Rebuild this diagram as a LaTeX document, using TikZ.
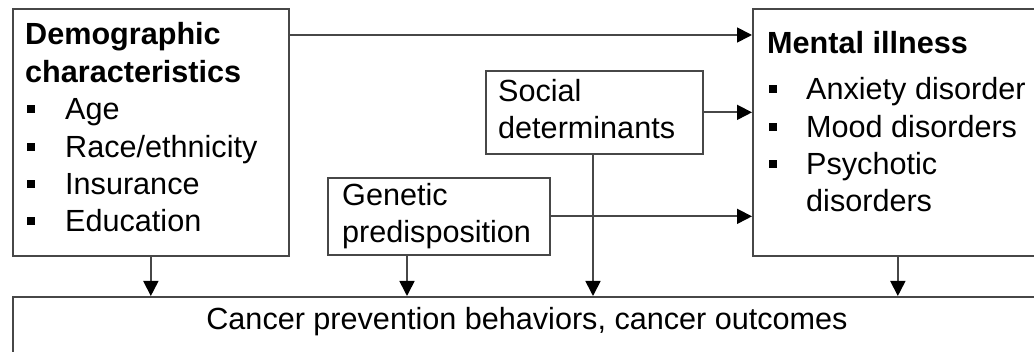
\documentclass[tikz,border=0pt]{standalone}
\usepackage{fontspec}
\setmainfont{Liberation Sans}
\usetikzlibrary{arrows.meta}
% square list bullet
\newcommand\sqbullet{\rule[6.5pt]{8pt}{8pt}}
\newcommand\itemline[2][40pt]{\makebox[#1][l]{\hspace{2pt}\sqbullet}#2}
\begin{document}
\begin{tikzpicture}[x=1pt,y=-1pt,
  frame/.style={draw=black!72,line width=1.7pt,rectangle,inner sep=0pt,anchor=north west},
  label/.style={inner sep=0pt,anchor=base west,align=left,font=\fontsize{30.6}{37.4}\selectfont},
  link/.style={draw=black!72,line width=1.7pt,-{Triangle[length=15pt,width=15pt,fill=black,color=black]}}]
\useasboundingbox (0,0) rectangle (1034,352);
\clip (0,0) rectangle (1034,352);

% boxes
\node[frame,minimum width=276pt,minimum height=247pt] (demo) at (12,8) {};
\node[frame,minimum width=290pt,minimum height=247pt] (mental) at (752,8) {};
\node[frame,minimum width=217pt,minimum height=83pt] (soc) at (485,70) {};
\node[frame,minimum width=222pt,minimum height=77pt] (gen) at (327,177) {};
\node[frame,minimum width=1030pt,minimum height=70pt] (out) at (12,296) {};

% texts (placed at the baseline of their last line)
\node[label] (demotext) at (25,232) {\textbf{Demographic}\\\textbf{characteristics}\\
  \itemline{Age}\\\itemline{Race/ethnicity}\\\itemline{Insurance}\\\itemline{Education}};
\node[label] (mentaltext) at (767,212) {\textbf{Mental illness}\\[8.6pt]
  \itemline[39pt]{Anxiety disorder}\\\itemline[39pt]{Mood disorders}\\
  \itemline[39pt]{Psychotic}\\\hspace*{39pt}disorders};
\node[label] (soctext) at (498,139) {Social\\determinants};
\node[label] (gentext) at (342,243) {Genetic\\predisposition};
\node[label,anchor=base] (outtext) at (527,330) {Cancer prevention behaviors, cancer outcomes};

% connectors
\coordinate (toprow) at (0,35);
\coordinate (genx) at (407,0);
\coordinate (socx) at (593,0);
\draw[link] (demo.east |- toprow) -- (mental.west |- toprow);
\draw[link] (soc.east) -- (soc.east -| mental.west);
\draw[link] (gen.east) -- (gen.east -| mental.west);
\draw[link] (demo.south) -- (demo.south |- out.north);
\draw[link] (gen.south -| genx) -- (out.north -| genx);
\draw[link] (soc.south -| socx) -- (out.north -| socx);
\draw[link] (mental.south) -- (mental.south |- out.north);
\end{tikzpicture}
\end{document}
